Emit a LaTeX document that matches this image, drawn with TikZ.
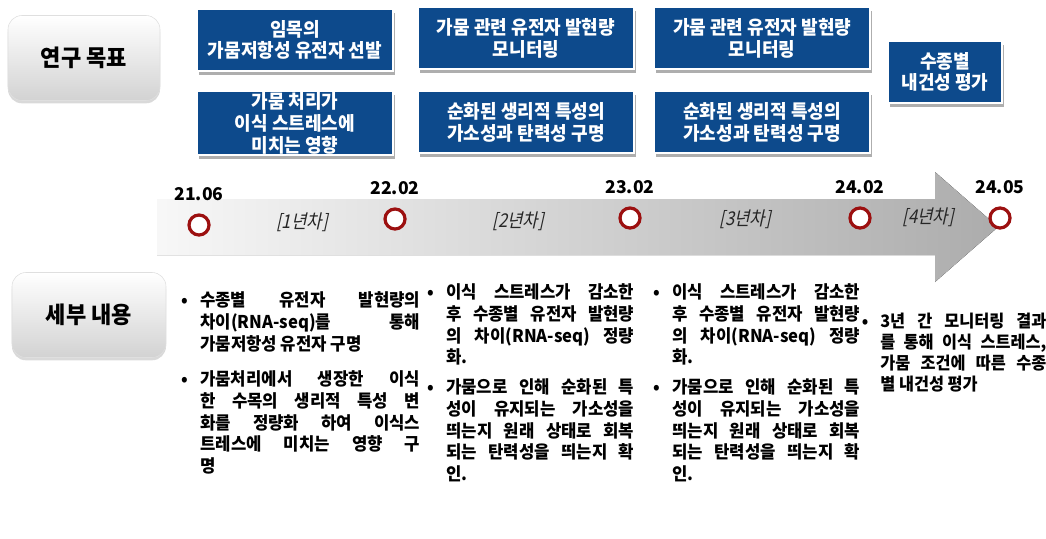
\documentclass[tikz,border=0pt]{standalone}
\usepackage{fontspec}
\setmainfont{Noto Sans CJK KR}[FakeStretch=0.95]
\newfontfamily\yearfont{Noto Sans CJK KR}[FakeSlant=0.22, FakeStretch=0.88]
\newfontfamily\datefont{Noto Sans CJK KR}
\usetikzlibrary{positioning,shadows}
\definecolor{goalblue}{HTML}{0D4A8C}
\definecolor{ringred}{HTML}{9C1010}

\begin{document}
\begin{tikzpicture}[
    x=0.025cm, y=-0.025cm,
    node distance=0.45cm,
    goal/.style={rectangle, fill=goalblue, draw=white, line width=1.5pt, text=white, align=center,
        minimum height=1.55cm, inner ysep=1pt, font=\bfseries\fontsize{13.5}{15.5}\selectfont,
        drop shadow={shadow xshift=1.5pt, shadow yshift=-2.5pt, fill=black!45, opacity=0.7}},
    tag/.style={rectangle, rounded corners=10pt, top color=white, bottom color=gray!35, draw=gray!25,
        minimum width=3.8cm, minimum height=2.125cm, font=\bfseries\fontsize{16.5}{19}\selectfont,
        drop shadow={shadow xshift=0pt, shadow yshift=-2pt, opacity=0.3}},
    ring/.style={circle, draw=ringred, line width=2.3pt, fill=white, minimum size=0.5cm, inner sep=0pt},
    date/.style={inner sep=0pt, font=\datefont\bfseries\fontsize{12.5}{14}\selectfont},
    year/.style={text=black!85, font=\yearfont\fontsize{13.5}{15}\selectfont},
    item/.style={anchor=north west, inner sep=0pt, align=justify, font=\bfseries\fontsize{12.5}{15.6}\selectfont}
]
\useasboundingbox (0,0) rectangle (1046,539);

% headings on the left
\node[tag] (aim) at (84,58) {연구 목표};
\node[tag, minimum width=3.85cm] (detail) at (89,315) {세부 내용};

% goals per year
\node[goal, minimum width=4.9cm] (g1a) at (295,40) {임목의\\가뭄저항성 유전자 선발};
\node[goal, minimum width=4.9cm, below=of g1a] (g1b) {가뭄 처리가\\이식 스트레스에\\미치는 영향};
\node[goal, minimum width=5.4cm] (g2a) at (526,38) {가뭄 관련 유전자 발현량\\모니터링};
\node[goal, minimum width=5.4cm, below=0.5cm of g2a] (g2b) {순화된 생리적 특성의\\가소성과 탄력성 구명};
\node[goal, minimum width=5.4cm, right=of g2a] (g3a) {가뭄 관련 유전자 발현량\\모니터링};
\node[goal, minimum width=5.4cm, below=0.5cm of g3a] (g3b) {순화된 생리적 특성의\\가소성과 탄력성 구명};
\node[goal, minimum width=2.85cm] (g4) at (945,72) {수종별\\내건성 평가};

% timeline
\fill[left color=gray!6, right color=gray!65] (157,199) -- (935,199) -- (935,172) -- (998,227)
    -- (935,282) -- (935,255) -- (157,255) -- cycle;

\node[ring] (t1) at (199,225) {};
\node[ring] (t2) at (395,219) {};
\node[ring] (t3) at (630,218) {};
\node[ring] (t4) at (860,218) {};
\node[ring] (t5) at (1000,218) {};

\node[date, above=0.3cm of t1] (d1) {21.06};
\node[date, above=0.3cm of t2] (d2) {22.02};
\node[date, above=0.3cm of t3] (d3) {23.02};
\node[date, above=0.3cm of t4] (d4) {24.02};
\node[date, above=0.3cm of t5] (d5) {24.05};

\node[year] (y1) at (302,222) {[1년차]};
\node[year] (y2) at (518,221) {[2년차]};
\node[year] (y3) at (745,219) {[3년차]};
\node[year] (y4) at (928,217) {[4년차]};

% details per year
\node[item, text width=5.5cm] (p1a) at (200,291) {\noindent\llap{\textbullet\hspace{0.3cm}}수종별 유전자 발현량의\linebreak 차이(RNA-seq)를 통해\linebreak 가뭄저항성 유전자 구명};
\node[item, text width=5.5cm] (p1b) at (200,370) {\noindent\llap{\textbullet\hspace{0.3cm}}가뭄처리에서 생장한 이식\linebreak 한 수목의 생리적 특성 변\linebreak 화를 정량화 하여 이식스\linebreak 트레스에 미치는 영향 구\linebreak 명};
\node[item, text width=4.7cm] (p2a) at (446,283) {\noindent\llap{\textbullet\hspace{0.3cm}}이식 스트레스가 감소한\linebreak 후 수종별 유전자 발현량\linebreak 의 차이(RNA-seq) 정량\linebreak 화.};
\node[item, text width=4.7cm] (p2b) at (446,378) {\noindent\llap{\textbullet\hspace{0.3cm}}가뭄으로 인해 순화된 특\linebreak 성이 유지되는 가소성을\linebreak 띄는지 원래 상태로 회복\linebreak 되는 탄력성을 띄는지 확\linebreak 인.};
\node[item, text width=4.7cm] (p3a) at (672,283) {\noindent\llap{\textbullet\hspace{0.3cm}}이식 스트레스가 감소한\linebreak 후 수종별 유전자 발현량\linebreak 의 차이(RNA-seq) 정량\linebreak 화.};
\node[item, text width=4.7cm] (p3b) at (672,378) {\noindent\llap{\textbullet\hspace{0.3cm}}가뭄으로 인해 순화된 특\linebreak 성이 유지되는 가소성을\linebreak 띄는지 원래 상태로 회복\linebreak 되는 탄력성을 띄는지 확\linebreak 인.};
\node[item, text width=4.15cm, font=\bfseries\fontsize{12.2}{14.9}\selectfont] (p4) at (880,313) {\noindent\llap{\textbullet\hspace{0.3cm}}3년 간 모니터링 결과\linebreak 를 통해 이식 스트레스,\linebreak 가뭄 조건에 따른 수종\linebreak 별 내건성 평가};
\end{tikzpicture}
\end{document}
